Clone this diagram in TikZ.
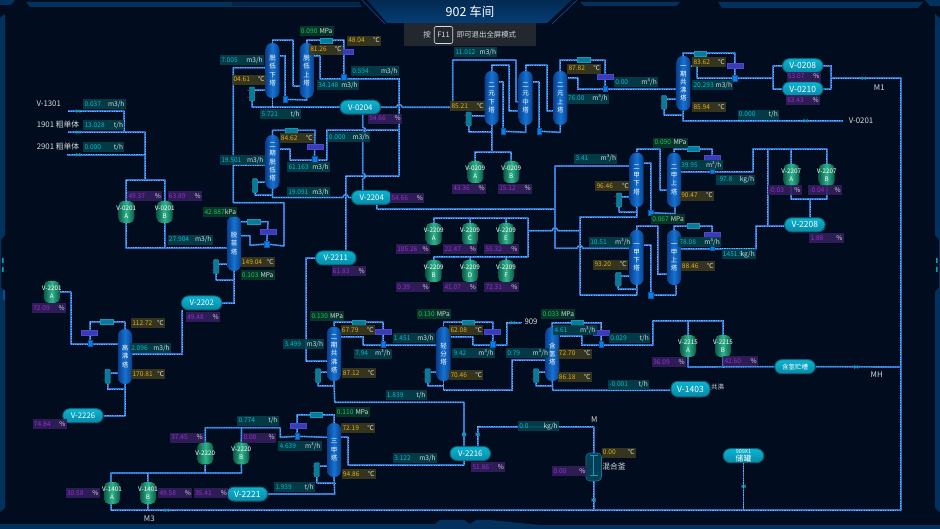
\documentclass[tikz,border=0pt]{standalone}
\usepackage{fontspec}
\setmainfont{Noto Sans CJK SC}
\usetikzlibrary{backgrounds}
\pgfdeclarelayer{bgl}\pgfdeclarelayer{pipes}
\pgfsetlayers{bgl,pipes,main}
\definecolor{pagebg}{HTML}{010D1F}
\definecolor{pipec}{HTML}{2A70CC}
\definecolor{pipel}{HTML}{6CB0F6}
\definecolor{flbg}{HTML}{05404C}\definecolor{flfg}{HTML}{07B9CC}
\definecolor{tebg}{HTML}{3C3A20}\definecolor{tefg}{HTML}{DDAF1E}
\definecolor{prbg}{HTML}{0A3B2C}\definecolor{prfg}{HTML}{17C455}
\definecolor{lebg}{HTML}{351F5C}\definecolor{lefg}{HTML}{9330D4}
\definecolor{unitc}{HTML}{D5DCDC}
\definecolor{frame}{HTML}{03315E}
\definecolor{frameb}{HTML}{0A4F96}
\definecolor{infobar}{HTML}{22282E}
\newcounter{tagn}
\tikzset{
 pipe/.style={draw=pipec,line width=1.7pt,line join=round,postaction={draw=pipel,line width=.9pt,dash pattern=on 1.2pt off 1.2pt}},
 towerst/.style={rectangle,rounded corners=6.5pt,minimum width=14pt,inner sep=0pt,left color=MyTe,right color=MyTe,middle color=MyTm,text=white,align=center,font=\fontsize{6.5}{8.2}\selectfont},
 drumst/.style={rectangle,rounded corners=7pt,minimum width=40.5pt,minimum height=14pt,inner sep=0pt,top color=MyDt,bottom color=MyDb,draw=MyDe,line width=1pt,text=white,align=center,font=\fontsize{7.8}{8}\selectfont},
 vesselst/.style={rectangle,rounded corners=5pt,minimum width=16pt,minimum height=22pt,inner sep=0pt,left color=MyVe,right color=MyVe,middle color=MyVm},
 vtext/.style={text=white,align=center,inner sep=0pt,font=\fontsize{6.3}{7.5}\selectfont},
 valvest/.style={rectangle,minimum width=4.5pt,minimum height=5.5pt,inner sep=0pt,fill=MyVa,draw=MyVa!70!black,line width=.3pt},
 condst/.style={rectangle,minimum width=12.5pt,minimum height=5pt,inner sep=0pt,fill=MyCo,draw=MyCb,line width=.4pt},
 coolst/.style={rectangle,minimum width=16pt,minimum height=5pt,inner sep=0pt,fill=MyPu,draw=MyPb,line width=.4pt},
 rebst/.style={rectangle,rounded corners=1pt,minimum width=5.5pt,minimum height=14pt,inner sep=0pt,fill=MyCo,draw=MyCb,line width=.4pt},
 tagst/.style={rectangle,minimum height=10pt,inner ysep=0pt,inner xsep=1.25pt,outer sep=0pt,fill opacity=.88,text opacity=1,text height=5.4pt,text depth=1pt,font=\fontsize{6.6}{7}\selectfont},
 lbl/.style={text=unitc,inner sep=0pt,font=\fontsize{7.8}{8}\selectfont},
 mk/.style={fill=MyMk}
}
\definecolor{MyTe}{HTML}{0A3F8C}\definecolor{MyTm}{HTML}{1573D2}
\definecolor{MyDt}{HTML}{0AB4D2}\definecolor{MyDb}{HTML}{078AA8}\definecolor{MyDe}{HTML}{0A6274}
\definecolor{MyVe}{HTML}{0C5A48}\definecolor{MyVm}{HTML}{2FB48C}
\definecolor{MyVa}{HTML}{0A7EEA}\definecolor{MyCo}{HTML}{0A7A98}\definecolor{MyCb}{HTML}{0E9AB8}
\definecolor{MyPu}{HTML}{3B3AB8}\definecolor{MyPb}{HTML}{4A4AD0}\definecolor{MyMk}{HTML}{0AA0B0}
\newcommand\tower[5]{\node[towerst,minimum height=#4-#3] (#1) at (#2,{(#3+#4)/2}) {#5};}
\newcommand\drum[4]{\node[drumst] (#1) at (#2,#3) {#4};}
\newcommand\vessel[4]{\node[vesselst] (#1) at (#2,#3) {};\node[vtext] (#1t) at (#1.center) {#4};}
\newcommand\valve[3]{\node[valvest] (#1) at (#2,#3) {};}
\newcommand\cond[3]{\node[condst] (#1) at (#2,#3) {};}
\newcommand\cool[3]{\node[coolst] (#1) at (#2,#3) {};}
\newcommand\reb[3]{\fill[red!60!black] (#2-5,#3-4) rectangle (#2-2.7,#3-3.2) (#2-5,#3+3.2) rectangle (#2-2.7,#3+4);\node[rebst] (#1) at (#2,#3) {};}
\newcommand\mkr[2]{\fill[mk] (#1-2,#2-2) -- (#1+2,#2+2) -- (#1+2,#2-2) -- (#1-2,#2+2) -- cycle;}
\newcommand\tagb[6]{\stepcounter{tagn}\pgfmathsetmacro\tagw{#3-#2}\pgfmathsetmacro\tagtw{#3-#2-2.5}\pgfmathsetmacro\tagx{(#2+#3)/2}%
\node[tagst,fill=#1bg,minimum width=\tagw pt] (tag\thetagn) at (\tagx,#4) {\hbox to \tagtw pt{\textcolor{#1fg}{#5}\hss\textcolor{unitc}{#6}}};}
\newcommand\lab[4]{\node[lbl] (#1) at (#2,#3) {#4};}
\begin{document}
\begin{tikzpicture}[x=1pt,y=-1pt]
\useasboundingbox (0,0) rectangle (940,529);
\begin{pgfonlayer}{bgl}
\fill[pagebg] (0,0) rectangle (940,529);
% frame
\fill[frame] (0,0) -- (15,0) -- (11,5) -- (0,5) -- cycle;
\fill[frame] (925,0) -- (940,0) -- (940,6) -- (930,6) -- cycle;
\fill[frame] (26,2) -- (358,2) -- (362,7) -- (30,7) -- cycle;
\fill[frame!70!pagebg] (232,2) rectangle (360,6);
\fill[frame] (580,2) -- (680,2) -- (676,6) -- (584,6) -- cycle;
\fill[frame] (718,2) -- (923,2) -- (918,8) -- (722,8) -- cycle;
\fill[frame] (0,18) -- (5,14) -- (5,235) -- (1,240) -- (1,287) -- (5,292) -- (5,508) -- (0,512) -- cycle;
\fill[frame] (940,18) -- (935,14) -- (935,235) -- (939,240) -- (939,287) -- (935,292) -- (935,508) -- (940,512) -- cycle;
\fill[frame] (0,524) -- (435,524) -- (440,520) -- (464,520) -- (470,524) -- (476,520) -- (490,520) -- (540,525) -- (940,525) -- (940,529) -- (0,529) -- cycle;
\fill[frameb] (3,290) rectangle (5,300);
\fill[MyMk] (2,258) rectangle (3.5,263) (2,267) rectangle (3.5,272);
\fill[MyMk] (936,258) rectangle (937.5,263) (936,267) rectangle (937.5,272);
\fill[top color=frame!80!pagebg,bottom color=frame!60!frameb] (367,0) -- (572,0) -- (547,23) -- (387,23) -- cycle;
\draw[frameb,line width=.6pt] (362,0) -- (385,24) (577,0) -- (552,24);
\end{pgfonlayer}
\node[fill=infobar,minimum width=132pt,minimum height=23pt,inner sep=0pt] (info) at (469.5,34.5) {};
\node[text=white,inner sep=0pt,font=\fontsize{12.5}{13}\selectfont] (title) at (470,12) {902 车间};
\node[text=unitc,inner sep=0pt,font=\fontsize{7.5}{8}\selectfont] (an) at (427,35) {按};
\node[draw=unitc,rounded corners=1.5pt,line width=.6pt,text=unitc,minimum width=18.5pt,minimum height=17pt,inner sep=0pt,font=\fontsize{7.5}{8}\selectfont] (f11) at (443.5,35) {F11};
\node[text=unitc,inner sep=0pt,font=\fontsize{7.4}{8}\selectfont] (exit) at (486.5,35) {即可退出全屏模式};
% towers
\tower{Tdlx}{272.5}{43}{98}{脱\\低\\下\\塔}
\tower{Tdls}{306.7}{43}{98}{脱\\低\\上\\塔}
\tower{Tedl}{272.5}{135}{189}{二\\期\\脱\\低\\塔}
\tower{Tmiao}{234}{216}{271}{脱\\苗\\塔}
\tower{Tgf}{125}{329}{384}{高\\沸\\塔}
\tower{Tela}{491.7}{71}{125}{二\\元\\下\\塔}
\tower{Telb}{525.7}{71}{125}{二\\元\\中\\塔}
\tower{Telc}{560.3}{71}{125}{二\\元\\上\\塔}
\tower{Tgfa}{683.3}{56}{110.7}{一\\期\\共\\沸\\塔}
\tower{Tejx}{636.7}{152.7}{207}{二\\甲\\下\\塔}
\tower{Tejs}{674}{152.7}{207}{二\\甲\\上\\塔}
\tower{Tyjx}{636.7}{230}{285}{一\\甲\\下\\塔}
\tower{Tyjs}{674}{230}{285}{一\\甲\\上\\塔}
\tower{Tgfb}{334}{326.7}{381}{二\\期\\共\\沸\\塔}
\tower{Tqf}{443.5}{326.7}{381}{轻\\分\\塔}
\tower{Tqh}{552.3}{327}{381}{含\\氢\\塔}
\tower{Tsj}{334}{423}{477}{三\\甲\\塔}
% drums
\drum{Da}{360.3}{107.2}{V-0204}
\drum{Db}{371.7}{197.5}{V-2204}
\drum{Dc}{335.8}{258}{V-2211}
\drum{Dd}{201.7}{303}{V-2202}
\drum{De}{83}{415.7}{V-2226}
\drum{Df}{247.3}{494}{\fontsize{8.5}{9}\selectfont V-2221}
\drum{Dg}{470.3}{453.5}{V-2216}
\drum{Dh}{802.7}{65.7}{\fontsize{8.5}{9}\selectfont V-0208}
\drum{Di}{802.7}{89}{\fontsize{8.5}{9}\selectfont V-0210}
\drum{Dj}{804.8}{224.8}{\fontsize{8.5}{9}\selectfont V-2208}
\drum{Dk}{795}{366.7}{\fontsize{6.5}{7}\selectfont 含氢贮槽}
\node[drumst,minimum width=39pt,minimum height=15.5pt] (Dl) at (690.5,389) {\fontsize{8.5}{9}\selectfont V-1403};
\drum{Dm}{743.5}{455.7}{\fontsize{5.5}{6.3}\selectfont 909X1\\储罐}
% vessels
\vessel{Va}{126.3}{212}{V-0201\\A}
\vessel{Vb}{164.7}{212}{V-0201\\B}
\vessel{Vc}{51.8}{292}{V-2201\\A}
\vessel{Vd}{475.3}{172}{V-0209\\A}
\vessel{Ve}{511.3}{172}{V-0209\\B}
\vessel{Vf}{433.7}{234}{V-2209\\A}
\vessel{Vg}{470}{234}{V-2209\\C}
\vessel{Vh}{506}{234}{V-2209\\E}
\vessel{Vi}{433.7}{271}{V-2209\\B}
\vessel{Vj}{470}{271}{V-2209\\D}
\vessel{Vk}{506}{271}{V-2209\\F}
\vessel{Vl}{791.3}{175}{V-2207\\A}
\vessel{Vm}{826.7}{175}{V-2207\\B}
\vessel{Vn}{688}{346}{V-2215\\A}
\vessel{Vo}{723}{346}{V-2215\\B}
\vessel{Vp}{205.3}{453.3}{V-2220}
\vessel{Vq}{241.3}{453.3}{V-2220\\B}
\vessel{Vr}{112}{493}{V-1401\\A}
\vessel{Vs}{148}{493}{V-1401\\B}
% mixer
\node[rectangle,rounded corners=4pt,minimum width=15.5pt,minimum height=28pt,inner sep=0pt,fill=MyCo!45!pagebg,draw=MyCo,line width=.6pt] (Mix) at (593.7,467) {};
\draw[MyCb,line width=.9pt] (590,455) -- (597.5,455) (593.7,455) -- (593.7,475) (590,475.5) -- (597.5,475.5);
% reboilers
\reb{Ra}{252}{94}
\reb{Rb}{255}{185.7}
\reb{Rc}{216}{266.7}
\reb{Rd}{107.7}{376.3}
\reb{Re}{468.7}{119}
\reb{Rf}{664}{102.3}
\reb{Rg}{619}{200}
\reb{Rh}{618.3}{279.3}
\reb{Ri}{318}{375.7}
\reb{Rj}{427.7}{375.7}
\reb{Rk}{536}{375.7}
\reb{Rl}{316.7}{469.7}
% condensers, coolers, valves
\cond{Ca}{326.3}{40.3}\cool{Ka}{344.7}{51.5}\valve{Qa}{343.7}{77}
\cond{Cb}{291.3}{130.3}\cool{Kb}{315.3}{147.2}\valve{Qb}{314.5}{159}
\cond{Cc}{253.6}{221.7}\cool{Kc}{268.3}{232}\valve{Qc}{266.7}{244}
\cond{Cd}{106.7}{321.7}\cool{Kd}{89}{333}\valve{Qd}{90}{343}
\cond{Ce}{583.8}{60}\cool{Ke}{605}{76.5}\valve{Qe}{605}{88.7}
\cond{Cf}{700.3}{53.3}\cool{Kf}{734.7}{65.3}\valve{Qf}{734.7}{78.3}
\cond{Cg}{693}{149}\cool{Kg}{712.5}{157.8}\valve{Qg}{712.3}{170.3}
\cond{Ch}{693}{226}\cool{Kh}{712.5}{235}\valve{Qh}{712.3}{247.3}
\cond{Ci}{358.8}{322.3}\cool{Ki}{383}{331.5}\valve{Qi}{383.3}{344.3}
\cond{Cj}{468}{322.3}\cool{Kj}{492.5}{331.5}\valve{Qj}{492.7}{344}
\cond{Ck}{577}{322.7}\cool{Kk}{601.3}{332.5}\valve{Ql}{601.3}{344}
\cond{Cl}{316.2}{414.7}\cool{Kl}{298}{426}\valve{Qm}{297}{436.3}
\valve{Qn}{285}{99.3}\valve{Qo}{503.3}{131.3}\valve{Qp}{539.3}{131.3}\valve{Qq}{650.7}{212.7}\valve{Qr}{650.7}{295.3}
% end points
\coordinate (inA) at (68.3,111.3);\coordinate (inB) at (67.7,132.3);\coordinate (inC) at (66.7,154.7);
\coordinate (outV) at (843,120.7);\coordinate (outN) at (521,322.7);
\begin{pgfonlayer}{pipes}
\draw[pipe] (inA) -- (124,111.3) -- (124,132.3);
\draw[pipe] (inB) -- (145,132.3) -- (145,180);
\draw[pipe] (inC) -- (145,154.7);
\draw[pipe] (Va.north) -- (126.3,180) -- (164.7,180) -- (Vb.north);
\draw[pipe] (Va.south) -- (126.3,247.7) -- (Tmiao.west |- 0,247.7);
\draw[pipe] (Vb.south) -- (164.7,247.7);
% top left
\draw[pipe] (Tdlx.north) -- (272.5,40.3) -- (293.3,40.3) -- (293.3,86) -- (Tdls.west |- 0,86);
\draw[pipe] (Tdlx.east |- 0,55.7) -- (285,55.7) -- (Qn);
\draw[pipe] (Qn) -- (306.7,100) -- (Tdls.south);
\draw[pipe] (Ra.east |- 0,90) -- (Tdlx.west |- 0,90);
\draw[pipe] (Ra.south) -- (252,107.2) -- (Da.west);
\draw[pipe] (Tdlx.south) -- (272.5,107.2);
\draw[pipe] (Tdls.north) -- (306.7,40.3) -- (Ca) -- (343.7,40.3) -- (Qa);
\draw[pipe] (Tdls.east |- 0,55.7) -- (320,55.7) -- (320,78.7) -- (399.3,78.7) -- (399.3,176) -- (345.7,176) -- (Dc.north -| 345.7,0);
\draw[pipe] (Da.east) -- (396.3,107.2) .. controls (397.8,103.5) and (400.8,103.5) .. (402.3,107.2) -- (452.7,107.2) -- (452.7,60) -- (516,60) -- (516,101.7) -- (Telb.west |- 0,101.7);
\draw[pipe] (Da.south -| 362.7,0) -- (362.7,127) .. controls (366.5,128.5) and (366.5,131.5) .. (362.7,133) -- (362.7,173) .. controls (366.5,174.5) and (366.5,177.5) .. (362.7,179) -- (Db.north -| 362.7,0);
% second low
\draw[pipe] (Tedl.north) -- (272.5,130.3) -- (Cb) -- (315,130.3) -- (Qb);
\draw[pipe] (Tedl.east |- 0,149) -- (290,149) -- (290,160) -- (326.7,160) -- (326.7,130) -- (399.3,130);
\draw[pipe] (Rb.east |- 0,182) -- (Tedl.west |- 0,182);
\draw[pipe] (Rb.south) -- (255,195) -- (272.5,195);
\draw[pipe] (Tedl.south) -- (272.5,197.5) -- (342.7,197.5) .. controls (344.2,193.5) and (347.2,193.5) .. (348.7,197.5) -- (Db.west);
\draw[pipe] (Tdlx.west |- 0,67.7) -- (233.3,67.7) -- (233.3,202.7) -- (284,202.7) -- (284,246) -- (Qc);
\draw[pipe] (233.3,165) -- (Tedl.west |- 0,165);
% miao
\draw[pipe] (Tmiao.east |- 0,221.7) -- (Cc) -- (268,221.7) -- (Qc);
\draw[pipe] (Tmiao.east |- 0,235.7) -- (250,235.7) -- (250,245.3) -- (Qc);
\draw[pipe] (Rc.east |- 0,264) -- (Tmiao.west |- 0,264);
\draw[pipe] (Rc.south) -- (216,280) -- (234,280);
\draw[pipe] (Tmiao.south) -- (234,303) -- (Dd.east);
\draw[pipe] (Dd.south -| 182.3,0) -- (182.3,354) -- (Tgf.east |- 0,354);
% high boil
\draw[pipe] (Vc.east |- 0,291.7) -- (71,291.7) -- (71,344) -- (Tgf.west |- 0,344);
\draw[pipe] (Tgf.north) -- (125,321.7) -- (Cd) -- (90,321.7) -- (Qd);
\draw[pipe] (Rd.east |- 0,373) -- (Tgf.west |- 0,373);
\draw[pipe] (Rd.south) -- (107.7,389) -- (125,389);
\draw[pipe] (Tgf.south) -- (125,415.7) -- (De.east);
% binary group
\draw[pipe] (Tela.north) -- (491.7,65.3) -- (509.3,65.3) -- (509.3,110.7) -- (Telb.west |- 0,110.7);
\draw[pipe] (Tela.east |- 0,81.7) -- (503.3,81.7) -- (Qo);
\draw[pipe] (Qo) -- (525.7,132.3) -- (Telb.south);
\draw[pipe] (Telb.north) -- (525.7,65.3) -- (547.3,65.3) -- (547.3,110.7) -- (Telc.west |- 0,110.7);
\draw[pipe] (Telb.east |- 0,81.7) -- (539.3,81.7) -- (Qp);
\draw[pipe] (Qp) -- (560.3,132.3) -- (Telc.south);
\draw[pipe] (Telc.north) -- (560.3,60) -- (Ce) -- (605,60) -- (Qe);
\draw[pipe] (Telc.east |- 0,77.7) -- (577.7,77.7) -- (577.7,89.3) -- (Tgfa.west |- 0,89.3);
\draw[pipe] (Re.east |- 0,115.7) -- (Tela.west |- 0,115.7);
\draw[pipe] (Re.south) -- (468.7,131.7) -- (491.7,131.7);
\draw[pipe] (Tela.south) -- (491.7,152.3);
\draw[pipe] (Vd.north) -- (475.3,152.3) -- (511.3,152.3) -- (Ve.north);
% first azeo
\draw[pipe] (Tgfa.north) -- (683.3,53.3) -- (Cf) -- (734.7,53.3) -- (Qf);
\draw[pipe] (Tgfa.east |- 0,66) -- (697.3,66) -- (697.3,78.3) -- (773.3,78.3) -- (773.3,65.7) -- (Dh.west);
\draw[pipe] (773.3,78.3) -- (773.3,89) -- (Di.west);
\draw[pipe] (Dh.east) -- (831,65.7) -- (831,89) -- (Di.east);
\draw[pipe] (831,78.3) -- (900.7,78.3) -- (900.7,510.3) -- (111,510.3) -- (Vr.south -| 111,0);
\draw[pipe] (Vs.south -| 147.7,0) -- (147.7,510.3);
\draw[pipe] (Rf.east |- 0,99) -- (Tgfa.west |- 0,99);
\draw[pipe] (Rf.south) -- (664,115) -- (683.3,115);
\draw[pipe] (Tgfa.south) -- (683.3,120.7) -- (outV);
% dimethyl
\draw[pipe] (Db.south -| 376.7,0) -- (376.7,209) -- (555,209);
\draw[pipe] (Tejx.west |- 0,166) -- (555,166) -- (555,248.3) -- (577,248.3) .. controls (578.5,244.5) and (581.5,244.5) .. (583,248.3) -- (Tyjx.west |- 0,248.3);
\draw[pipe] (Vf.north) -- (433.7,218.3) -- (528.3,218.3) -- (528.3,256.7) -- (433.7,256.7) -- (Vi.north);
\draw[pipe] (470,218.3) -- (Vg.north);\draw[pipe] (506,218.3) -- (Vh.north);
\draw[pipe] (470,256.7) -- (Vj.north);\draw[pipe] (506,256.7) -- (Vk.north);
\draw[pipe] (528.3,230.7) -- (552,230.7) .. controls (553.5,226.7) and (556.5,226.7) .. (558,230.7) -- (580,230.7);
\draw[pipe] (Tejx.south) -- (636.7,217.3) -- (580,217.3) -- (580,295.3) -- (636.7,295.3) -- (Tyjx.south);
\draw[pipe] (Rg.east |- 0,196.7) -- (Tejx.west |- 0,196.7);
\draw[pipe] (Rg.south) -- (619,212.3) -- (636.7,212.3);
\draw[pipe] (Rh.east |- 0,276) -- (Tyjx.west |- 0,276);
\draw[pipe] (Rh.south) -- (618.3,289.3) -- (636.7,289.3);
\draw[pipe] (Tejx.north) -- (636.7,149) -- (660,149) -- (660,190) -- (Tejs.west |- 0,190);
\draw[pipe] (Tejx.east |- 0,163.3) -- (650.7,163.3) -- (Qq);
\draw[pipe] (Qq) -- (675,213.7) -- (Tejs.south -| 675,0);
\draw[pipe] (Tyjx.north) -- (636.7,226) -- (657.7,226) -- (657.7,274) -- (Tyjs.west |- 0,274);
\draw[pipe] (Tyjx.east |- 0,245) -- (650.7,245) -- (Qr);
\draw[pipe] (Qr) -- (676,295.3) -- (Tyjs.south -| 676,0);
\draw[pipe] (Tejs.north) -- (674,149) -- (Cg) -- (712.3,149) -- (Qg);
\draw[pipe] (Tejs.east |- 0,171.7) -- (753.3,171.7) -- (753.3,149) -- (826.7,149) -- (Vm.north);
\draw[pipe] (791.3,149) -- (Vl.north);
\draw[pipe] (767.7,149) -- (767.7,226);
\draw[pipe] (Tyjs.north) -- (674,226) -- (Ch) -- (712.3,226) -- (Qh);
\draw[pipe] (Tyjs.east |- 0,248.7) -- (756,248.7) -- (756,226) -- (Dj.west |- 0,226);
\draw[pipe] (Vl.south) -- (791.3,199) -- (826.7,199) -- (Vm.south);
\draw[pipe] (Dj.north -| 810,0) -- (810,199);
% second azeo
\draw[pipe] (Dc.west) -- (306,258) -- (306,361.3) -- (Tgfb.west |- 0,361.3);
\draw[pipe] (Tgfb.north) -- (334,322.3) -- (Ci) -- (383.3,322.3) -- (Qi);
\draw[pipe] (Tgfb.east |- 0,336.7) -- (363.3,336.7) -- (363.3,345) -- (Tqf.west |- 0,345);
\draw[pipe] (Ri.east |- 0,372.3) -- (Tgfb.west |- 0,372.3);
\draw[pipe] (Ri.south) -- (318,385.7) -- (334,385.7);
\draw[pipe] (Tgfb.south) -- (334.7,402.3) -- (464,402.3) -- (Dg.north -| 464,0);
% light split
\draw[pipe] (Tqf.north) -- (443.5,322.3) -- (Cj) -- (492.7,322.3) -- (Qj);
\draw[pipe] (Tqf.east |- 0,336.7) -- (472.7,336.7) -- (472.7,345) -- (506.7,345) -- (506.7,322.7) -- (outN);
\draw[pipe] (Rj.east |- 0,372.3) -- (Tqf.west |- 0,372.3);
\draw[pipe] (Rj.south) -- (427.7,385.7) -- (443.5,385.7);
\draw[pipe] (Tqf.south) -- (443.5,390.3) -- (512.3,390.3) -- (512.3,360) -- (Tqh.west |- 0,360);
% hydrogen
\draw[pipe] (Tqh.north) -- (552.3,322.7) -- (Ck) -- (601.3,322.7) -- (Ql);
\draw[pipe] (Tqh.east |- 0,336) -- (581.7,336) -- (581.7,345) -- (652.7,345) -- (652.7,320.7) -- (723,320.7) -- (Vo.north);
\draw[pipe] (688,320.7) -- (Vn.north);
\draw[pipe] (Vn.south) -- (688,367) -- (Dk.west);
\draw[pipe] (Vo.south) -- (723,367);
\draw[pipe] (Dk.east) -- (900.7,367);
\draw[pipe] (Rk.east |- 0,372) -- (Tqh.west |- 0,372);
\draw[pipe] (Rk.south) -- (536,385.7) -- (552.7,385.7);
\draw[pipe] (Tqh.south) -- (552.7,390.3) -- (Dl.west |- 0,390.3);
% trimethyl
\draw[pipe] (Tsj.north) -- (334,414.7) -- (Cl) -- (297,414.7) -- (Qm);
\draw[pipe] (Tsj.west |- 0,437.3) -- (Qm);
\draw[pipe] (Qm) -- (280.3,437.3) -- (280.3,427.7) -- (205.3,427.7) -- (Vp.north);
\draw[pipe] (241.5,427.7) -- (Vq.north);
\draw[pipe] (Vq.south) -- (241.5,473) -- (111,473) -- (Vr.north -| 111,0);
\draw[pipe] (Vp.south) -- (205.3,473);
\draw[pipe] (147.7,473) -- (Vs.north -| 147.7,0);
\draw[pipe] (Tsj.east |- 0,437.3) -- (348.3,437.3) -- (348.3,465) -- (464,465) -- (Dg.south -| 464,0);
\draw[pipe] (Rl.east |- 0,466.3) -- (Tsj.west |- 0,466.3);
\draw[pipe] (Rl.south) -- (316.7,483) -- (334.7,483);
\draw[pipe] (Tsj.south) -- (334.7,494) -- (Df.east);
% mixer
\draw[pipe] (Mix.north) -- (593.7,426.7) -- (477.7,426.7) -- (Dg.north -| 477.7,0);
\draw[pipe] (Mix.south) -- (593.7,510.3);
\draw[pipe] (Dm.south) -- (743.5,510.3);
\end{pgfonlayer}
% markers
\mkr{78.3}{111.3}\mkr{78.3}{132.3}\mkr{78.3}{154.7}\mkr{805.7}{120.7}\mkr{863.7}{78.3}
\mkr{512.7}{322.7}\mkr{856}{367}\mkr{166.7}{510.3}\mkr{464}{434.3}\mkr{477.7}{434.3}
\mkr{593.7}{500}\mkr{743.5}{486.3}
% labels
\lab{la}{48.7}{103.3}{V-1301}
\lab{lb}{58}{124.7}{1901 粗单体}
\lab{lc}{58}{146.7}{2901 粗单体}
\lab{ld}{879.3}{87.7}{M1}
\lab{le}{861}{120.7}{V-0201}
\lab{lf}{531}{322}{909}
\lab{lg}{876.7}{374.7}{MH}
\lab{lh}{149.3}{518.7}{M3}
\lab{li}{594.3}{419.7}{M}
\lab{lj}{614}{466.3}{混合釜}
\node[lbl,font=\fontsize{6.5}{7}\selectfont] (lk) at (717.7,387.3) {共沸};
% tags
\tagb{fl}{83.3}{125.7}{104}{0.037}{m3/h}
\tagb{fl}{83.3}{124.3}{125}{13.028}{t/h}
\tagb{fl}{83.3}{124.3}{147}{0.000}{t/h}
\tagb{le}{127.3}{162.3}{196.5}{49.37}{\%}
\tagb{le}{167.7}{202}{196.5}{63.89}{\%}
\tagb{fl}{167.7}{212.7}{239.7}{27.904}{m3/h}
\tagb{pr}{203.3}{237.3}{212.3}{42.887}{kPa}
\tagb{pr}{299.7}{333.7}{31.3}{0.090}{MPa}
\tagb{te}{347}{381}{40.8}{48.04}{℃}
\tagb{te}{309}{342.7}{49.8}{81.26}{℃}
\tagb{fl}{220}{264}{60}{7.005}{m3/h}
\tagb{te}{232.3}{265.7}{79.8}{04.61}{℃}
\tagb{fl}{351}{398.7}{71.2}{0.594}{m3/h}
\tagb{fl}{317}{359}{85.3}{34.148}{m3/h}
\tagb{fl}{260.3}{301}{114}{5.721}{t/h}
\tagb{le}{368}{402}{118.6}{54.66}{\%}
\tagb{fl}{327.7}{370.3}{137}{0.000}{m3/h}
\tagb{te}{279.7}{313.7}{138}{84.62}{℃}
\tagb{fl}{220}{264.7}{160}{19.501}{m3/h}
\tagb{fl}{287.3}{330}{167.3}{61.163}{m3/h}
\tagb{fl}{287}{330}{192}{19.091}{m3/h}
\tagb{le}{390.3}{424.3}{198}{54.66}{\%}
\tagb{fl}{454}{497.3}{52.2}{11.012}{m3/h}
\tagb{te}{567.3}{601.3}{68.7}{87.82}{℃}
\tagb{fl}{614}{658}{82}{0.00}{m³/h}
\tagb{fl}{566.7}{609}{98.7}{76.00}{m³/h}
\tagb{te}{450.3}{484.7}{106.5}{85.21}{℃}
\tagb{le}{452}{486}{188.7}{43.36}{\%}
\tagb{le}{498}{532}{188.7}{15.12}{\%}
\tagb{le}{396}{430}{249}{105.26}{\%}
\tagb{le}{443.3}{477.3}{249}{22.47}{\%}
\tagb{le}{484.3}{518.7}{249}{55.32}{\%}
\tagb{le}{396}{430}{287}{0.39}{\%}
\tagb{le}{443.3}{477.3}{287.3}{41.07}{\%}
\tagb{le}{484.3}{518.7}{287}{72.31}{\%}
\tagb{te}{595.3}{630}{186.5}{96.46}{℃}
\tagb{te}{593.3}{627.7}{264.7}{93.20}{℃}
\tagb{fl}{589}{631.7}{242}{10.51}{m³/h}
\tagb{fl}{574.3}{617.3}{158.7}{3.41}{m³/h}
\tagb{pr}{653.3}{687.7}{142.7}{0.090}{MPa}
\tagb{fl}{680}{722.7}{165.3}{39.95}{m³/h}
\tagb{te}{692.3}{726}{62.3}{83.62}{℃}
\tagb{fl}{692.3}{733.3}{85.2}{20.293}{m3/h}
\tagb{te}{692.3}{726}{107}{85.94}{℃}
\tagb{fl}{737.7}{779}{114.7}{0.000}{t/h}
\tagb{le}{786.7}{820.7}{76.7}{53.07}{\%}
\tagb{le}{786}{820}{100}{63.43}{\%}
\tagb{te}{680}{714}{195.8}{90.47}{℃}
\tagb{fl}{716}{755.3}{179.7}{-97.8}{kg/h}
\tagb{pr}{651}{685}{219.5}{0.067}{MPa}
\tagb{fl}{678.3}{721}{242}{78.08}{m³/h}
\tagb{fl}{721.7}{756}{254.3}{1451.9}{kg/h}
\tagb{te}{680.7}{714.7}{266.3}{88.46}{℃}
\tagb{le}{767.7}{801.7}{190.3}{-0.03}{\%}
\tagb{le}{808}{842}{190.3}{-0.04}{\%}
\tagb{le}{809.3}{843.7}{238}{1.88}{\%}
\tagb{te}{240.7}{274.7}{262}{149.04}{℃}
\tagb{pr}{240.7}{274.7}{275.2}{0.103}{MPa}
\tagb{le}{331.7}{366}{271.5}{61.83}{\%}
\tagb{le}{32}{66}{308.2}{72.09}{\%}
\tagb{te}{131}{165}{323}{112.72}{℃}
\tagb{fl}{130}{171}{348}{2.096}{m3/h}
\tagb{te}{131.3}{165.3}{374}{170.81}{℃}
\tagb{le}{186}{220}{317}{49.48}{\%}
\tagb{le}{32.7}{66.7}{424}{74.84}{\%}
\tagb{pr}{310.3}{344.3}{316.3}{0.130}{MPa}
\tagb{te}{340.7}{374.7}{330.3}{67.79}{℃}
\tagb{pr}{417}{451}{314.3}{0.130}{MPa}
\tagb{fl}{392.7}{435}{338.3}{1.451}{m3/h}
\tagb{fl}{283.3}{324.3}{344}{3.499}{m3/h}
\tagb{fl}{354}{391.7}{353.7}{7.94}{m³/h}
\tagb{te}{341.7}{375.7}{373}{87.12}{℃}
\tagb{fl}{385.7}{426.7}{395}{1.839}{t/h}
\tagb{pr}{335.7}{369.7}{412}{0.110}{MPa}
\tagb{te}{341.3}{375.3}{428}{72.19}{℃}
\tagb{te}{341.7}{375.7}{474}{94.86}{℃}
\tagb{fl}{393}{437}{458}{3.122}{m3/h}
\tagb{fl}{237.3}{278.7}{420.7}{0.774}{t/h}
\tagb{fl}{278.3}{321.7}{445.8}{4.639}{m³/h}
\tagb{fl}{274}{315}{487}{1.939}{t/h}
\tagb{te}{449.3}{483.3}{330.3}{62.08}{℃}
\tagb{fl}{452.3}{495}{353.5}{9.42}{m³/h}
\tagb{te}{449.3}{483.3}{375}{70.46}{℃}
\tagb{fl}{506}{549.3}{353}{0.79}{m³/h}
\tagb{te}{557.7}{591.7}{353.7}{72.70}{℃}
\tagb{te}{557.7}{591.7}{377}{86.18}{℃}
\tagb{fl}{608}{649}{384.7}{-0.001}{t/h}
\tagb{le}{652}{686}{362}{36.09}{\%}
\tagb{pr}{541.3}{575.3}{314.3}{0.033}{MPa}
\tagb{fl}{553.3}{596.7}{330}{4.61}{m³/h}
\tagb{fl}{609}{650}{338.5}{0.029}{t/h}
\tagb{le}{723.3}{758}{361}{42.60}{\%}
\tagb{fl}{518}{559}{426}{0.0}{kg/h}
\tagb{te}{601.7}{635.7}{452.7}{0.00}{℃}
\tagb{le}{552.3}{586.7}{471.3}{0.00}{\%}
\tagb{le}{471.3}{505.3}{467}{51.86}{\%}
\tagb{le}{170}{204}{437.7}{37.45}{\%}
\tagb{le}{242.3}{276}{437.7}{0.00}{\%}
\tagb{le}{65.7}{99.7}{493}{30.58}{\%}
\tagb{le}{158.3}{192.3}{493}{49.58}{\%}
\tagb{le}{194}{228.3}{493}{35.41}{\%}
\end{tikzpicture}
\end{document}
